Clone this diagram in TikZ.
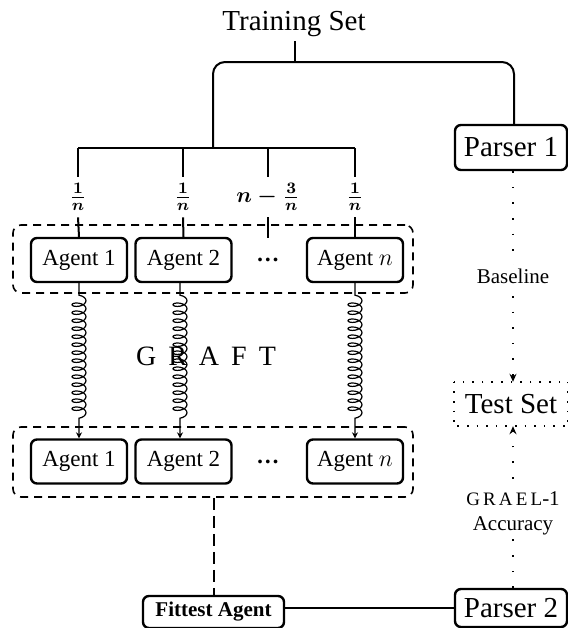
\documentclass[tikz,border=0pt]{standalone}
\usepackage{fontspec}
\setmainfont{Liberation Serif}
\usetikzlibrary{decorations.pathmorphing,arrows.meta}

\begin{document}
\begin{tikzpicture}[x=0.5pt,y=-0.5pt,
  box/.style={draw, line width=1.2pt, rounded corners=3pt, inner sep=0pt},
  agentbox/.style={box, minimum width=48pt, minimum height=22pt, font=\fontsize{11.5}{13}\selectfont},
  bigbox/.style={box, minimum width=56pt, minimum height=22.5pt, font=\fontsize{14.5}{16}\selectfont},
  tree/.style={line width=1pt},
  group/.style={draw, line width=0.8pt, dash pattern=on 4pt off 3pt, rounded corners=4pt, minimum width=200pt, inner sep=0pt},
  spring/.style={line width=0.6pt, decorate, decoration={coil, amplitude=3.5pt, segment length=4pt, pre length=6pt, post length=8pt}, -{Stealth[length=3pt,width=3pt]}},
  dotline/.style={line width=1pt, dash pattern=on 0.8pt off 7pt, -{Stealth[length=4pt,width=3.5pt]}},
  fraclabel/.style={font=\fontsize{11}{13}\selectfont\boldmath, inner sep=3pt},
  side/.style={font=\fontsize{10.5}{12.5}\selectfont, fill=white, align=center, inner sep=2pt},
]
\useasboundingbox (0,0) rectangle (568,628);

% training data and the first parser
\node[font=\fontsize{14.5}{16}\selectfont, inner sep=2pt] (ts) at (294,24) {Training Set};
\node[bigbox] (p1) at (511,147.5) {Parser 1};
\coordinate (j1) at (295,62);
\coordinate (j2) at (213,148);
\draw[tree] (ts.south -| j1) -- (j1);
\draw[tree, rounded corners=6pt] (j2) |- (j1) -| (p1.north -| 514,0);

% share labels
\node[fraclabel] (l1) at (78,197) {$\frac{1}{n}$};
\node[fraclabel] (l2) at (183,197) {$\frac{1}{n}$};
\node[fraclabel] (lm) at (268,197) {$n-\frac{3}{n}$};
\node[fraclabel] (ln) at (355,197) {$\frac{1}{n}$};

% first generation of agents
\node[group, minimum height=34pt] (g1) at (213,259) {};
\node[agentbox] (a1) at (79,260) {Agent 1};
\node[agentbox] (a2) at (183.5,260) {Agent 2};
\node[minimum height=22pt, inner sep=0pt, font=\fontsize{11.5}{13}\selectfont] (ad) at (268,260) {\textbf{\dots}};
\node[agentbox] (an) at (355,260) {Agent $n$};

\draw[tree] (l1.north |- j2) -- (ln.north |- j2);
\draw[tree] (l1.north |- j2) -- (l1.north);
\draw[tree] (l2.north |- j2) -- (l2.north);
\draw[tree] (lm.north |- j2) -- (lm.north);
\draw[tree] (ln.north |- j2) -- (ln.north);
\draw[tree] (l1.south) -- (a1.north);
\draw[tree] (l2.south) -- (a2.north);
\draw[tree] (lm.south) -- (ad.north);
\draw[tree] (ln.south) -- (an.north);

% second generation of agents
\node[group, minimum height=35pt] (g2) at (213,462) {};
\node[agentbox] (b1) at (79,461.5) {Agent 1};
\node[agentbox] (b2) at (183.5,461.5) {Agent 2};
\node[minimum height=22pt, inner sep=0pt, font=\fontsize{11.5}{13}\selectfont] (bd) at (268,461.5) {\textbf{\dots}};
\node[agentbox] (bn) at (355,461.5) {Agent $n$};

% evolution between generations
\draw[spring] (a1.south) -- (b1.north);
\draw[spring] (a2.south -| 180,0) -- (b2.north -| 180,0);
\draw[spring] (an.south) -- (bn.north);
\node[font=\fontsize{14}{16}\selectfont, inner sep=0pt] (graft) at (206,356)
  {G\hspace{6pt}R\hspace{6pt}A\hspace{6pt}F\hspace{6pt}T};

% evaluation
\node[bigbox, draw=none, minimum height=21pt] (tset) at (511,404) {Test Set};
\draw[line width=0.9pt, dash pattern=on 0.8pt off 4pt] (tset.north west) rectangle (tset.south east);
\node[box, minimum width=70.5pt, minimum height=16pt, font=\fontsize{10.5}{12}\selectfont\bfseries] (fa) at (213.5,612) {Fittest Agent};
\node[bigbox, minimum height=19pt] (p2) at (511,608) {Parser 2};

\draw[line width=1pt, dash pattern=on 6pt off 3pt] (g2.south -| fa.north) -- (fa.north);
\draw[line width=0.9pt] (fa.east |- p2.west) -- (p2.west);

\draw[dotline] (p1.south -| 513,0) -- node[side, pos=0.5] {Baseline} (tset.north -| 513,0);
\draw[dotline] (p2.north -| 513,0) -- node[side, pos=0.46] {{\fontsize{9.5}{12}\selectfont G\,R\,A\,E\,L}-1\\Accuracy} (tset.south -| 513,0);
\end{tikzpicture}
\end{document}
